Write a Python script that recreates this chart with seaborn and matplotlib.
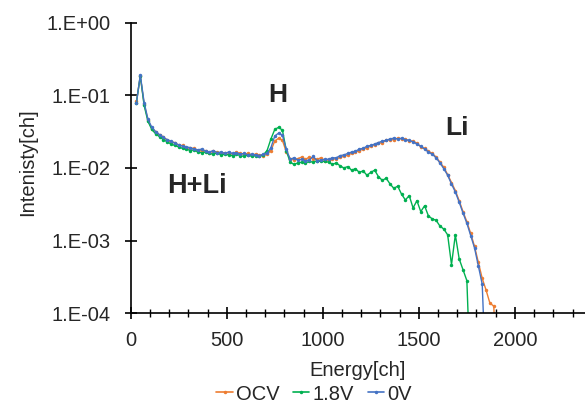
import numpy as np
import pandas as pd
import seaborn as sns
import matplotlib
matplotlib.use("Agg")
import matplotlib.pyplot as plt
from matplotlib.ticker import FixedLocator, MultipleLocator, FuncFormatter, NullLocator

# Energy channels (every 20 ch)
energy = list(range(30, 1911, 20))

# log10(intensity), one value per channel
log_ocv = [
    -1.08, -0.74, -1.12, -1.34, -1.46, -1.50, -1.55, -1.57, -1.62, -1.64,
    -1.65, -1.69, -1.69, -1.72, -1.73, -1.73, -1.76, -1.76, -1.76, -1.79,
    -1.77, -1.78, -1.80, -1.79, -1.79, -1.81, -1.78, -1.80, -1.81, -1.80,
    -1.82, -1.81, -1.82, -1.83, -1.81, -1.76, -1.63, -1.59, -1.62, -1.78,
    -1.87, -1.89, -1.87, -1.85, -1.88, -1.85, -1.87, -1.88, -1.86, -1.90,
    -1.89, -1.87, -1.88, -1.85, -1.84, -1.82, -1.80, -1.78, -1.76, -1.74,
    -1.72, -1.70, -1.68, -1.66, -1.65, -1.62, -1.61, -1.61, -1.59, -1.60,
    -1.60, -1.63, -1.63, -1.66, -1.71, -1.73, -1.77, -1.80, -1.85, -1.92,
    -1.99, -2.09, -2.20, -2.31, -2.45, -2.60, -2.74, -2.90, -3.08, -3.30,
    -3.52, -3.68, -3.86, -3.90, -5.00,
]
log_18v = [
    -1.10, -0.73, -1.14, -1.36, -1.47, -1.53, -1.57, -1.61, -1.64, -1.67,
    -1.69, -1.71, -1.73, -1.74, -1.76, -1.75, -1.78, -1.79, -1.78, -1.80,
    -1.81, -1.79, -1.82, -1.81, -1.82, -1.83, -1.81, -1.83, -1.84, -1.82,
    -1.84, -1.83, -1.84, -1.82, -1.76, -1.60, -1.47, -1.44, -1.48, -1.76,
    -1.92, -1.95, -1.93, -1.92, -1.93, -1.91, -1.92, -1.90, -1.91, -1.91,
    -1.92, -1.95, -1.93, -1.97, -2.00, -1.98, -2.03, -2.01, -2.06, -2.04,
    -2.10, -2.06, -2.03, -2.12, -2.17, -2.14, -2.22, -2.28, -2.25, -2.36,
    -2.44, -2.38, -2.55, -2.45, -2.60, -2.52, -2.66, -2.70, -2.72, -2.80,
    -2.84, -2.92, -3.33, -2.92, -3.25, -3.40, -3.55, -5.00, np.nan, np.nan,
    np.nan, np.nan, np.nan, np.nan, np.nan,
]
log_0v = [
    -1.10, -0.72, -1.10, -1.33, -1.44, -1.50, -1.54, -1.58, -1.61, -1.63,
    -1.66, -1.68, -1.70, -1.71, -1.72, -1.74, -1.75, -1.74, -1.77, -1.78,
    -1.76, -1.79, -1.78, -1.80, -1.78, -1.80, -1.79, -1.81, -1.80, -1.82,
    -1.81, -1.82, -1.83, -1.81, -1.80, -1.72, -1.56, -1.52, -1.55, -1.74,
    -1.88, -1.86, -1.89, -1.88, -1.90, -1.89, -1.84, -1.90, -1.89, -1.88,
    -1.88, -1.86, -1.86, -1.83, -1.82, -1.80, -1.78, -1.77, -1.74, -1.73,
    -1.70, -1.69, -1.67, -1.65, -1.63, -1.62, -1.60, -1.59, -1.60, -1.59,
    -1.61, -1.62, -1.64, -1.67, -1.70, -1.74, -1.78, -1.81, -1.86, -1.93,
    -2.01, -2.10, -2.22, -2.33, -2.47, -2.62, -2.76, -2.93, -3.10, -3.35,
    -3.60, -5.00, np.nan, np.nan, np.nan,
]

series_names = ["OCV", "1.8V", "0V"]
colors = ["#ED7D31", "#00B050", "#4472C4"]

frames = []
for name, vals in zip(series_names, [log_ocv, log_18v, log_0v]):
    frames.append(pd.DataFrame({"energy": energy,
                                "intensity": 10.0 ** np.array(vals),
                                "cond": name}))
df = pd.concat(frames).dropna()

sns.set_style("ticks")
plt.rcParams["font.family"] = ["Liberation Sans", "DejaVu Sans"]

fig = plt.figure(figsize=(5.85, 4.08), dpi=100)
ax = fig.add_axes([0.2234, 0.232, 0.7766, 0.7125])

sns.lineplot(data=df, x="energy", y="intensity", hue="cond",
             hue_order=series_names, palette=colors, marker="o",
             markersize=2.5, markeredgewidth=0, linewidth=1.0,
             sort=False, legend=False, ax=ax)

ax.set_yscale("log")
ax.set_ylim(1e-4, 1)
ax.set_xlim(0, 2365)
ax.yaxis.set_major_locator(FixedLocator([1e-4, 1e-3, 1e-2, 1e-1, 1]))
ax.yaxis.set_minor_locator(NullLocator())
ax.yaxis.set_major_formatter(FuncFormatter(lambda v, p: f"1.E{int(round(np.log10(v))):+03d}"))
ax.xaxis.set_major_locator(MultipleLocator(500))
ax.xaxis.set_minor_locator(MultipleLocator(100))

for s in ["top", "right"]:
    ax.spines[s].set_visible(False)
for s in ["left", "bottom"]:
    ax.spines[s].set_color("black")
    ax.spines[s].set_linewidth(1.2)

ax.tick_params(axis="y", which="major", direction="inout", length=9,
               width=1.2, color="black", labelsize=14.5, pad=10)
ax.tick_params(axis="x", which="major", direction="inout", length=9,
               width=1.2, color="black", labelsize=14.5, pad=8)
ax.tick_params(axis="x", which="minor", direction="inout", length=6,
               width=1.0, color="black")

ax.set_xlabel("Energy[ch]", fontsize=14.5)
ax.set_ylabel("Intenisty[ch]", fontsize=14.5)
ax.xaxis.set_label_coords(0.5, -0.165)
ax.yaxis.set_label_coords(-0.206, 0.52)

ax.text(766, 0.101, "H", fontsize=19, fontweight="bold", ha="center", va="center")
ax.text(1698, 0.0355, "Li", fontsize=19, fontweight="bold", ha="center", va="center")
ax.text(345, 0.0056, "H+Li", fontsize=19.5, fontweight="bold", ha="center", va="center")

handles = [plt.Line2D([], [], color=c, marker="o", markersize=2.5,
                      markeredgewidth=0, linewidth=1.2) for c in colors]
fig.legend(handles, series_names, loc="center", bbox_to_anchor=(314 / 585, 1 - 394 / 408),
           ncol=3, frameon=False, fontsize=14.5, handlelength=0.8,
           handletextpad=0.15, columnspacing=0.7)

fig.savefig("out.png", dpi=100)
